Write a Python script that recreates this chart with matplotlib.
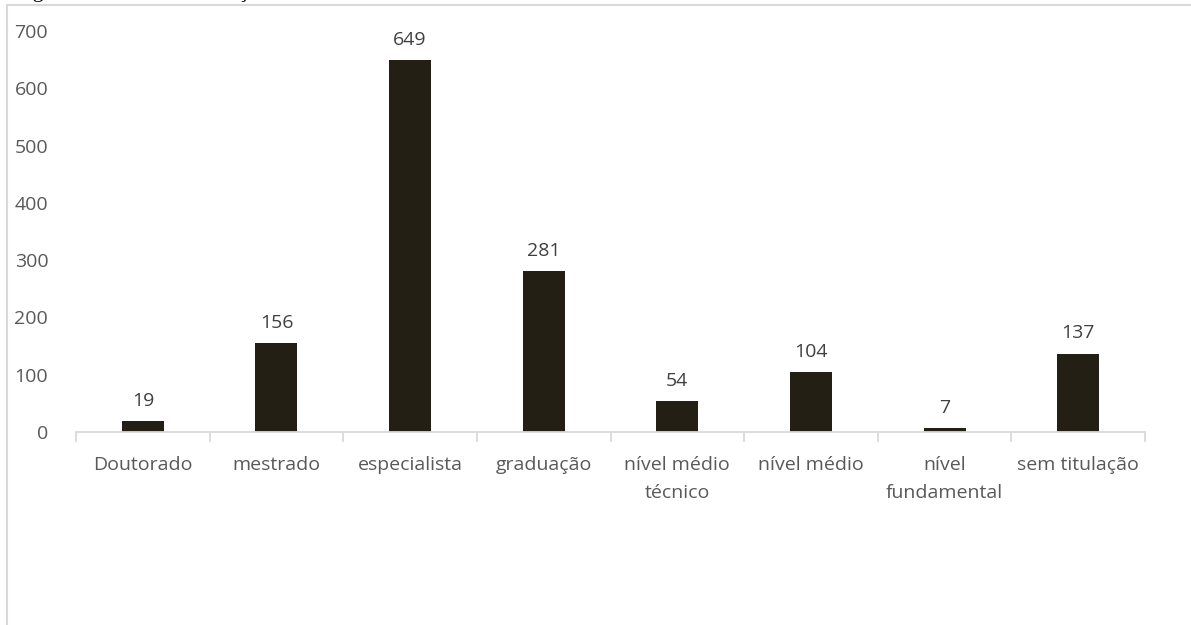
import matplotlib
matplotlib.use("Agg")
import matplotlib.pyplot as plt
from matplotlib.patches import Rectangle
import numpy as np

categorias = ["Doutorado", "mestrado", "especialista", "graduação", "nível médio\ntécnico",
              "nível médio", "nível\nfundamental", "sem titulação"]
valores = [19, 156, 649, 281, 54, 104, 7, 137]
yticks = [0, 100, 200, 300, 400, 500, 600, 700]

plt.rcParams['font.family'] = ['Open Sans', 'DejaVu Sans']
cinza = '#595959'

fig = plt.figure(figsize=(11.91, 6.25), dpi=100)
ax = fig.add_axes([76/1191, 193/625, (1145-76)/1191, (594-193)/625])

# moldura cinza do gráfico
fig.patches.append(Rectangle((7/1191, -0.01), 1.2, 620/625 + 0.01, transform=fig.transFigure,
                             fill=False, edgecolor='#D9D9D9', lw=1.5))
# título cortado no topo (só aparecem as descendentes)
fig.text(14/1191, 628/625, "Figura 3 – Nível de titulação", family='Liberation Serif',
         fontsize=16, va='baseline', color='black')

x = np.arange(len(categorias))
bars = ax.bar(x, valores, width=0.315, color='#231F14')
for b, v in zip(bars, valores):
    ax.annotate(str(v), (b.get_x() + b.get_width()/2, v), xytext=(0, 8), textcoords='offset points',
                ha='center', va='bottom', fontsize=14, color='#404040')

ax.set_xlim(-0.5, len(categorias) - 0.5)
ax.set_ylim(0, 700)
ax.set_yticks(yticks)
ax.set_xticks(x)
ax.set_xticklabels(categorias, fontsize=14, color=cinza, linespacing=1.75)
ax.set_xticks(np.arange(len(categorias) + 1) - 0.5, minor=True)
ax.tick_params(axis='x', which='major', length=0, pad=17)
ax.tick_params(axis='x', which='minor', length=7, color='#D9D9D9', width=1.3)
ax.tick_params(axis='y', length=0, labelsize=14, labelcolor=cinza, pad=20)
for lado in ['top', 'right', 'left']:
    ax.spines[lado].set_visible(False)
ax.spines['bottom'].set_color('#D9D9D9')
ax.spines['bottom'].set_linewidth(1.3)

fig.savefig("out.png", dpi=100)
